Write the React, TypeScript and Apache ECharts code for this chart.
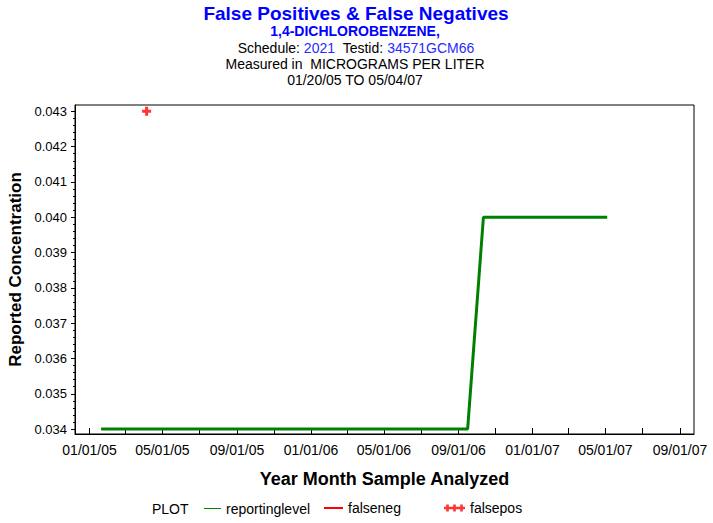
import React, { useEffect, useRef } from 'react';
import * as echarts from 'echarts';

// ---- data ----
const xTickLabels = ['01/01/05', '05/01/05', '09/01/05', '01/01/06', '05/01/06', '09/01/06', '01/01/07', '05/01/07', '09/01/07'];
const xTickMarks = ['01/01/05', '03/01/05', '05/01/05', '07/01/05', '09/01/05', '11/01/05', '01/01/06', '03/01/06', '05/01/06', '07/01/06', '09/01/06', '11/01/06', '01/01/07', '03/01/07', '05/01/07', '07/01/07', '09/01/07'];
const yTickLabels = [0.034, 0.035, 0.036, 0.037, 0.038, 0.039, 0.040, 0.041, 0.042, 0.043];
const yMinorPerMajor = 5;

const reportingDates = ['01/20/05', '09/16/06', '10/12/06', '05/04/07'];
const reportingValues = [0.034, 0.034, 0.040, 0.040];
const falsenegDates: string[] = [];
const falsenegValues: number[] = [];
const falseposDates = ['04/05/05'];
const falseposValues = [0.043];

const xRange = ['12/08/04', '09/24/07'];
const yRange = [0.03386, 0.04318];

const FONT = '"Liberation Sans", Arial, Helvetica, sans-serif';

function parseDate(s: string): number {
  const [m, d, y] = s.split('/').map(Number);
  return Date.UTC(2000 + y, m - 1, d);
}

export default function App() {
  const ref = useRef<HTMLDivElement>(null);
  useEffect(() => {
    if (!ref.current) return;
    const chart = echarts.init(ref.current, undefined, { renderer: 'svg' });

    const labelVals = xTickLabels.map(parseDate);
    const tickVals = xTickMarks.map(parseDate);
    const minorY: number[] = [];
    for (let i = 0; i < yTickLabels.length - 1; i++) {
      const a = yTickLabels[i];
      const b = yTickLabels[i + 1];
      for (let k = 1; k < yMinorPerMajor; k++) {
        minorY.push(a + ((b - a) * k) / yMinorPerMajor);
      }
    }

    const plusPath = 'path://M3,0h3v3h3v3h-3v3h-3v-3h-3v-3h3z';
    const triplePlus = 'path://M0,2.5h24v3h-24zM2.5,0h3v8h-3zM10.5,0h3v8h-3zM18.5,0h3v8h-3z';

    const legendText = { fontFamily: FONT, fontSize: 14, color: '#000' };

    const option: any = {
      animation: false,
      backgroundColor: '#ffffff',
      textStyle: { fontFamily: FONT },
      grid: {
        left: 75,
        right: 19,
        top: 105,
        bottom: 89,
        containLabel: false,
        outerBoundsMode: 'none',
        show: true,
        borderColor: '#000',
        borderWidth: 1,
        backgroundColor: 'transparent',
      },
      graphic: [
        {
          type: 'text', x: 356, y: 13,
          style: { text: 'False Positives & False Negatives', fill: '#0000ff', font: `bold 19px ${FONT}`, textAlign: 'center', textVerticalAlign: 'middle' },
        },
        {
          type: 'text', x: 355, y: 31,
          style: { text: '1,4-DICHLOROBENZENE,', fill: '#0000ff', font: `bold 14px ${FONT}`, textAlign: 'center', textVerticalAlign: 'middle' },
        },
        {
          type: 'text', x: 356, y: 47.5,
          style: {
            text: '{k|Schedule: }{v|2021}{k|  Testid: }{v|34571GCM66}',
            textAlign: 'center', textVerticalAlign: 'middle',
            rich: {
              k: { fill: '#000', fontSize: 14, fontFamily: FONT },
              v: { fill: '#2a2aff', fontSize: 14, fontFamily: FONT },
            },
          },
        },
        {
          type: 'text', x: 355, y: 63.5,
          style: { text: 'Measured in  MICROGRAMS PER LITER', fill: '#000', font: `14px ${FONT}`, textAlign: 'center', textVerticalAlign: 'middle' },
        },
        {
          type: 'text', x: 355, y: 80,
          style: { text: '01/20/05 TO 05/04/07', fill: '#000', font: `14px ${FONT}`, textAlign: 'center', textVerticalAlign: 'middle' },
        },
        {
          type: 'text', x: 152, y: 509,
          style: { text: 'PLOT', fill: '#000', font: `14px ${FONT}`, textAlign: 'left', textVerticalAlign: 'middle' },
        },
      ],
      legend: [
        {
          data: [{ name: 'reportinglevel', icon: 'rect' }],
          left: 204, top: 501.5, padding: 0, itemWidth: 17, itemHeight: 1, selectedMode: false,
          textStyle: legendText,
        },
        {
          data: [{ name: 'falseneg', icon: 'rect' }],
          left: 324, top: 501, padding: 0, itemWidth: 19, itemHeight: 2, selectedMode: false,
          textStyle: legendText,
        },
        {
          data: [{ name: 'falsepos', icon: triplePlus }],
          left: 444, top: 501, padding: 0, itemWidth: 21, itemHeight: 8, selectedMode: false,
          textStyle: legendText,
        },
      ],
      xAxis: {
        type: 'value',
        min: parseDate(xRange[0]),
        max: parseDate(xRange[1]),
        name: 'Year Month Sample Analyzed',
        nameLocation: 'middle',
        nameGap: 36,
        nameMoveOverlap: false,
        nameTextStyle: { fontFamily: FONT, fontSize: 18, fontWeight: 'bold', color: '#000' },
        axisLine: { show: true, lineStyle: { color: '#000', width: 1 } },
        axisTick: { show: true, inside: true, length: 6, customValues: tickVals, lineStyle: { color: '#000' } },
        axisLabel: {
          customValues: labelVals,
          margin: 9,
          fontFamily: FONT,
          fontSize: 14,
          color: '#000',
          formatter: (v: number) => {
            const i = labelVals.indexOf(v);
            return i >= 0 ? xTickLabels[i] : '';
          },
        },
        splitLine: { show: false },
      },
      yAxis: [
        {
          type: 'value',
          min: yRange[0],
          max: yRange[1],
          name: 'Reported Concentration',
          nameLocation: 'middle',
          nameGap: 51,
          nameMoveOverlap: false,
          nameTextStyle: { fontFamily: FONT, fontSize: 17, fontWeight: 'bold', color: '#000' },
          axisLine: { show: true, lineStyle: { color: '#000', width: 1 } },
          axisTick: { show: true, length: 4, customValues: yTickLabels, lineStyle: { color: '#000' } },
          axisLabel: {
            customValues: yTickLabels,
            margin: 8,
            fontFamily: FONT,
            fontSize: 13,
            color: '#000',
            formatter: (v: number) => v.toFixed(3),
          },
          splitLine: { show: false },
        },
        {
          type: 'value',
          position: 'left',
          offset: 0,
          min: yRange[0],
          max: yRange[1],
          axisLine: { show: false },
          axisTick: { show: true, length: 2, customValues: minorY, lineStyle: { color: '#000' } },
          axisLabel: { show: false },
          splitLine: { show: false },
        },
      ],
      series: [
        {
          name: 'reportinglevel',
          type: 'line',
          yAxisIndex: 0,
          data: reportingDates.map((d, i) => [parseDate(d), reportingValues[i]]),
          symbol: 'none',
          color: '#008000',
          lineStyle: { color: '#008000', width: 3 },
        },
        {
          name: 'falseneg',
          type: 'line',
          yAxisIndex: 0,
          data: falsenegDates.map((d, i) => [parseDate(d), falsenegValues[i]]),
          symbol: 'none',
          color: '#ff0000',
          lineStyle: { color: '#ff0000', width: 2 },
        },
        {
          name: 'falsepos',
          type: 'scatter',
          yAxisIndex: 0,
          data: falseposDates.map((d, i) => [parseDate(d), falseposValues[i]]),
          symbol: plusPath,
          symbolSize: 9,
          color: '#ff0000',
          itemStyle: { color: '#ff0000' },
        },
      ],
    };

    chart.setOption(option);
    return () => chart.dispose();
  }, []);

  return (
    <div
      ref={ref}
      style={{ position: 'absolute', left: 0, top: 0, width: 713, height: 523, background: '#fff' }}
    />
  );
}
